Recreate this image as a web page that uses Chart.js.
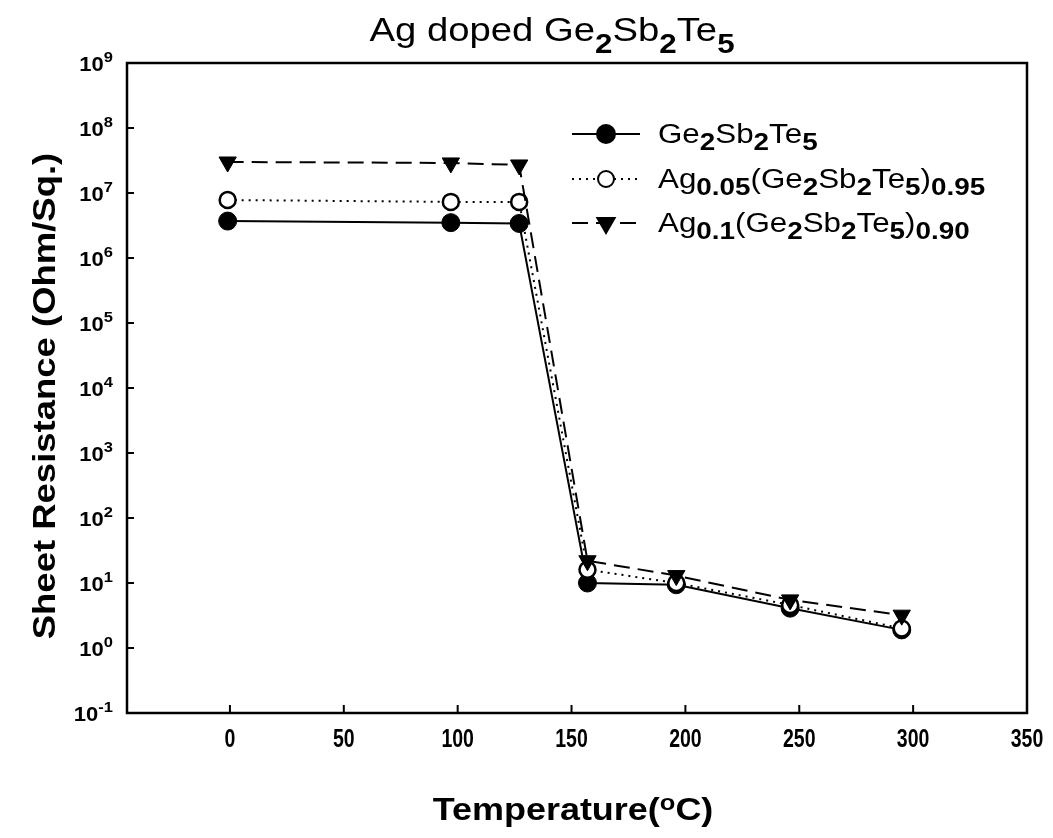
<!DOCTYPE html>
<html>
<head>
<meta charset="utf-8">
<title>Ag doped Ge2Sb2Te5</title>
<script src="https://cdn.jsdelivr.net/npm/chart.js"></script>
<style>
  body { margin: 0; background: #fff; }
  #wrap { width: 1053px; height: 838px; }
</style>
</head>
<body>
<div id="wrap"><canvas id="resChart" width="1053" height="838"></canvas></div>
<script>
// temperatures (deg C)
const temps = [-1, 97, 127, 157, 196, 246, 295];

// sheet resistance (Ohm/Sq.)
const gst = [3.7e6, 3.5e6, 3.4e6, 10, 9.4, 4.1, 1.9];
const ag005 = [7.8e6, 7.3e6, 7.3e6, 16, 10, 4.6, 2.0];
const ag01 = [3.0e7, 2.9e7, 2.7e7, 22, 13, 5.5, 3.2];

// axis ticks
const xTicks = [0, 50, 100, 150, 200, 250, 300, 350];
const yTickExps = [-1, 0, 1, 2, 3, 4, 5, 6, 7, 8, 9];

const LS = '"Liberation Sans", Arial, Helvetica, sans-serif';
const STRETCH = 1.16;

function pts(ys) {
    return temps.map((t, i) => ({ x: t, y: ys[i] }));
}

// draw text made of pieces: [text, font, dy]
function drawRich(ctx, segs, x, y, align, sx) {
    let w = 0;
    segs.forEach(s => { ctx.font = s[1]; w += ctx.measureText(s[0]).width; });
    w *= sx;
    let left = x;
    if (align === 'center') left = x - w / 2;
    if (align === 'right') left = x - w;
    ctx.save();
    ctx.textAlign = 'left';
    ctx.textBaseline = 'alphabetic';
    ctx.fillStyle = '#000';
    ctx.translate(left, y);
    ctx.scale(sx, 1);
    let px = 0;
    segs.forEach(s => {
        ctx.font = s[1];
        ctx.fillText(s[0], px, s[2] || 0);
        px += ctx.measureText(s[0]).width;
    });
    ctx.restore();
}

const reg = sz => sz + 'px ' + LS;
const bold = sz => 'bold ' + sz + 'px ' + LS;

const datasets = [
    {
        label: 'Ge2Sb2Te5',
        data: pts(gst),
        borderColor: '#000',
        backgroundColor: '#000',
        borderWidth: 2,
        pointStyle: 'circle',
        pointRadius: 9,
        pointBorderWidth: 1,
        order: 3
    },
    {
        label: 'Ag0.05(Ge2Sb2Te5)0.95',
        data: pts(ag005),
        borderColor: '#000',
        backgroundColor: '#fff',
        borderWidth: 2,
        borderDash: [2, 5],
        pointStyle: 'circle',
        pointRadius: 8,
        pointBorderWidth: 2.5,
        order: 2
    },
    {
        label: 'Ag0.1(Ge2Sb2Te5)0.90',
        data: pts(ag01),
        borderColor: '#000',
        backgroundColor: '#000',
        borderWidth: 2,
        borderDash: [16, 8],
        pointStyle: 'triangle',
        pointRotation: 180,
        pointRadius: 10,
        pointBorderWidth: 1,
        order: 1
    }
];

// legend rows: sample line dash, and label pieces
const subDy = 7;
const legendRows = [
    { ds: 0, dash: [], y: 143, segs: [
        ['Ge', reg(27)], ['2', bold(24), subDy], ['Sb', reg(27)], ['2', bold(24), subDy],
        ['Te', reg(27)], ['5', bold(24), subDy]] },
    { ds: 1, dash: [2, 5], y: 188, segs: [
        ['Ag', reg(27)], ['0.05', bold(24), subDy], ['(Ge', reg(27)], ['2', bold(24), subDy],
        ['Sb', reg(27)], ['2', bold(24), subDy], ['Te', reg(27)], ['5', bold(24), subDy],
        [')', reg(27)], ['0.95', bold(24), subDy]] },
    { ds: 2, dash: [16, 8], y: 232, segs: [
        ['Ag', reg(27)], ['0.1', bold(24), subDy], ['(Ge', reg(27)], ['2', bold(24), subDy],
        ['Sb', reg(27)], ['2', bold(24), subDy], ['Te', reg(27)], ['5', bold(24), subDy],
        [')', reg(27)], ['0.90', bold(24), subDy]] }
];

const decorations = {
    id: 'decorations',
    afterDatasetsDraw(chart) {
        const ctx = chart.ctx;
        const a = chart.chartArea;
        const xs = chart.scales.x;
        const ys = chart.scales.y;

        ctx.save();
        ctx.strokeStyle = '#000';
        ctx.lineWidth = 2.5;
        ctx.setLineDash([]);
        ctx.strokeRect(a.left, a.top, a.right - a.left, a.bottom - a.top);

        // inside ticks
        ctx.lineWidth = 2;
        ctx.beginPath();
        xTicks.forEach(v => {
            const px = xs.getPixelForValue(v);
            ctx.moveTo(px, a.bottom);
            ctx.lineTo(px, a.bottom - 8);
        });
        yTickExps.forEach(e => {
            const py = ys.getPixelForValue(Math.pow(10, e));
            ctx.moveTo(a.left, py);
            ctx.lineTo(a.left + 7, py);
        });
        ctx.stroke();
        ctx.restore();

        // x tick labels, condensed
        xTicks.forEach(v => {
            const px = xs.getPixelForValue(v);
            drawRich(ctx, [[String(v), bold(25)]], px, a.bottom + 34, 'center', 0.78);
        });

        // y tick labels 10^n
        yTickExps.forEach(e => {
            const py = ys.getPixelForValue(Math.pow(10, e));
            drawRich(ctx, [['10', bold(20)], [String(e), bold(15), -9]], 113, py + 8, 'right', 1.1);
        });

        // title
        drawRich(ctx, [
            ['Ag doped Ge', reg(33)], ['2', bold(27), 12], ['Sb', reg(33)], ['2', bold(27), 12],
            ['Te', reg(33)], ['5', bold(27), 12]
        ], 552, 41, 'center', STRETCH);

        // x title
        drawRich(ctx, [
            ['Temperature(', bold(31)], ['o', bold(22), -10], ['C)', bold(31)]
        ], 573, 820, 'center', STRETCH);

        // y title
        ctx.save();
        ctx.translate(55, 396);
        ctx.rotate(-Math.PI / 2);
        drawRich(ctx, [['Sheet Resistance (Ohm/Sq.)', bold(32)]], 0, 0, 'center', 1.14);
        ctx.restore();

        // legend
        legendRows.forEach(row => {
            const ds = chart.data.datasets[row.ds];
            const ly = row.y - 9;
            ctx.save();
            ctx.strokeStyle = '#000';
            ctx.lineWidth = 2;
            ctx.setLineDash(row.dash);
            ctx.beginPath();
            ctx.moveTo(572, ly);
            ctx.lineTo(640, ly);
            ctx.stroke();
            ctx.setLineDash([]);
            ctx.fillStyle = ds.backgroundColor;
            ctx.strokeStyle = ds.borderColor;
            Chart.helpers.drawPoint(ctx, {
                pointStyle: ds.pointStyle,
                radius: ds.pointRadius,
                rotation: ds.pointRotation || 0,
                borderWidth: ds.pointBorderWidth
            }, 606, ly);
            ctx.restore();
            drawRich(ctx, row.segs, 658, row.y, 'left', STRETCH);
        });
    }
};

new Chart(document.getElementById('resChart'), {
    type: 'line',
    data: { datasets: datasets },
    options: {
        responsive: false,
        animation: false,
        layout: { padding: { left: 0, right: 26, top: 63, bottom: 0 } },
        plugins: {
            legend: { display: false },
            title: { display: false },
            tooltip: { enabled: false }
        },
        scales: {
            x: {
                type: 'linear',
                min: -45.2,
                max: 350,
                afterBuildTicks: scale => { scale.ticks = xTicks.map(v => ({ value: v })); },
                afterFit: scale => { scale.height = 125; },
                grid: { display: false, drawTicks: false },
                border: { display: false },
                ticks: { display: false }
            },
            y: {
                type: 'logarithmic',
                min: 0.1,
                max: 1e9,
                afterBuildTicks: scale => { scale.ticks = yTickExps.map(e => ({ value: Math.pow(10, e) })); },
                afterFit: scale => { scale.width = 127; },
                grid: { display: false, drawTicks: false },
                border: { display: false },
                ticks: { display: false }
            }
        }
    },
    plugins: [decorations]
});
</script>
</body>
</html>
